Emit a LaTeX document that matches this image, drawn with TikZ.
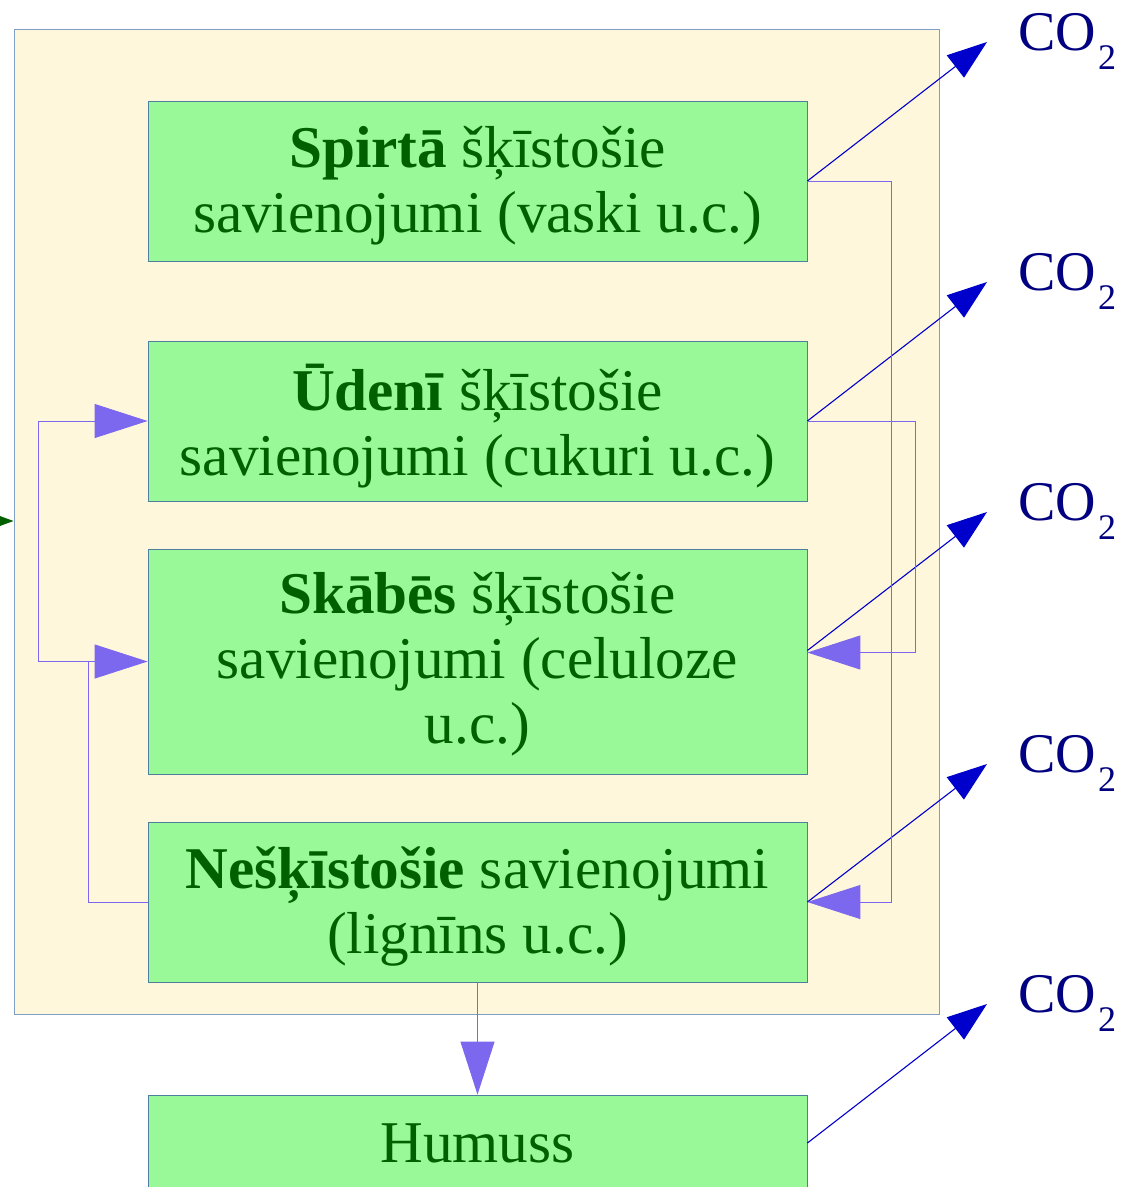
\documentclass[tikz,border=0pt]{standalone}
\usepackage{fontspec}
\setmainfont{Liberation Serif}
\usetikzlibrary{arrows.meta}
\definecolor{cream}{HTML}{FFF7DC}
\definecolor{creamline}{HTML}{7F9FC4}
\definecolor{boxgreen}{HTML}{99F998}
\definecolor{boxline}{HTML}{4F7F9F}
\definecolor{txtgreen}{HTML}{006000}
\definecolor{flow}{HTML}{7B68EE}
\definecolor{coblue}{HTML}{0000CC}
\definecolor{conavy}{HTML}{000080}
\newcommand\cotwo{CO\raisebox{-19pt}{\fontsize{36}{36}\selectfont\hspace{2pt}2}}
\tikzset{
  outerbox/.style={draw=creamline, fill=cream, line width=1pt, minimum width=925pt, minimum height=985pt, inner sep=0pt},
  stagebox/.style={draw=boxline, fill=boxgreen, line width=0.8pt, minimum width=659pt, inner sep=0pt},
  stagetext/.style={inner sep=0pt, align=center, text=txtgreen, font=\fontsize{59.2}{65}\selectfont},
  flowline/.style={draw=flow, line width=0.9pt},
  flowarrow/.style={flowline, -{Triangle[length=53pt,width=34pt]}},
  coarrow/.style={draw=coblue, line width=1.1pt, -{Triangle[length=40pt,width=28pt]}},
  colabel/.style={anchor=base west, inner sep=0pt, text=conavy, font=\fontsize{56}{60}\selectfont},
  greenarrow/.style={draw=txtgreen, line width=1pt, -{Triangle[length=14pt,width=10pt]}}
}
\begin{document}
\begin{tikzpicture}[x=1pt,y=-1pt]
\useasboundingbox (0,0) rectangle (1131,1187);
\node[outerbox] (outer) at (476.5,521.5) {};
\node[stagebox, minimum height=160pt] (b1) at (477.5,181) {};
\node[stagebox, minimum height=160pt] (b2) at (477.5,421) {};
\node[stagebox, minimum height=225pt] (b3) at (477.5,661.5) {};
\node[stagebox, minimum height=160pt] (b4) at (477.5,902) {};
\node[stagebox, minimum height=96pt] (hum) at (477.5,1143) {};
\node[stagetext] (b1t) at ([yshift=-5pt]b1.center) {\textbf{Spirtā} šķīstošie\\savienojumi (vaski u.c.)};
\node[stagetext] (b2t) at ([yshift=-5pt]b2.center) {\textbf{Ūdenī} šķīstošie\\savienojumi (cukuri u.c.)};
\node[stagetext] (b3t) at ([yshift=-3pt]b3.center) {\textbf{Skābēs} šķīstošie\\savienojumi (celuloze\\u.c.)};
\node[stagetext] (b4t) at ([yshift=-5pt]b4.center) {\textbf{Nešķīstošie} savienojumi\\(lignīns u.c.)};
\node[stagetext] (humt) at (hum.center) {Humuss};
% CO2 labels and arrow tips
\node[colabel] (c1) at (1018,50) {\cotwo};
\node[colabel] (c2) at (1018,290) {\cotwo};
\node[colabel] (c3) at (1018,520) {\cotwo};
\node[colabel] (c4) at (1018,772) {\cotwo};
\node[colabel] (c5) at (1018,1012) {\cotwo};
\coordinate (t1) at (987,42);
\coordinate (t2) at (987,282);
\coordinate (t3) at (987,512);
\coordinate (t4) at (987,764);
\coordinate (t5) at (987,1004);
\draw[coarrow] (b1.east) -- (t1);
\draw[coarrow] (b2.east) -- (t2);
\draw[coarrow] ([yshift=11pt]b3.east) -- (t3);
\draw[coarrow] (b4.east) -- (t4);
\draw[coarrow] (hum.east) -- (t5);
% internal flows
\coordinate (lj) at (88,661.5);
\draw[flowline] (b4.west) -| (lj);
\draw[flowarrow] (lj) -- (b3.west);
\draw[flowarrow] (lj) -- (38,661.5) |- (b2.west);
\draw[flowarrow] (b2.east) -- (915,421) |- ([yshift=9pt]b3.east);
\draw[flowarrow] (b1.east) -- (891,181) |- (b4.east);
\draw[flowarrow] (b4.south) -- (hum.north);
% incoming
\coordinate (gin) at (0,521);
\draw[greenarrow] (gin) -- (outer.west |- gin);
\end{tikzpicture}
\end{document}
